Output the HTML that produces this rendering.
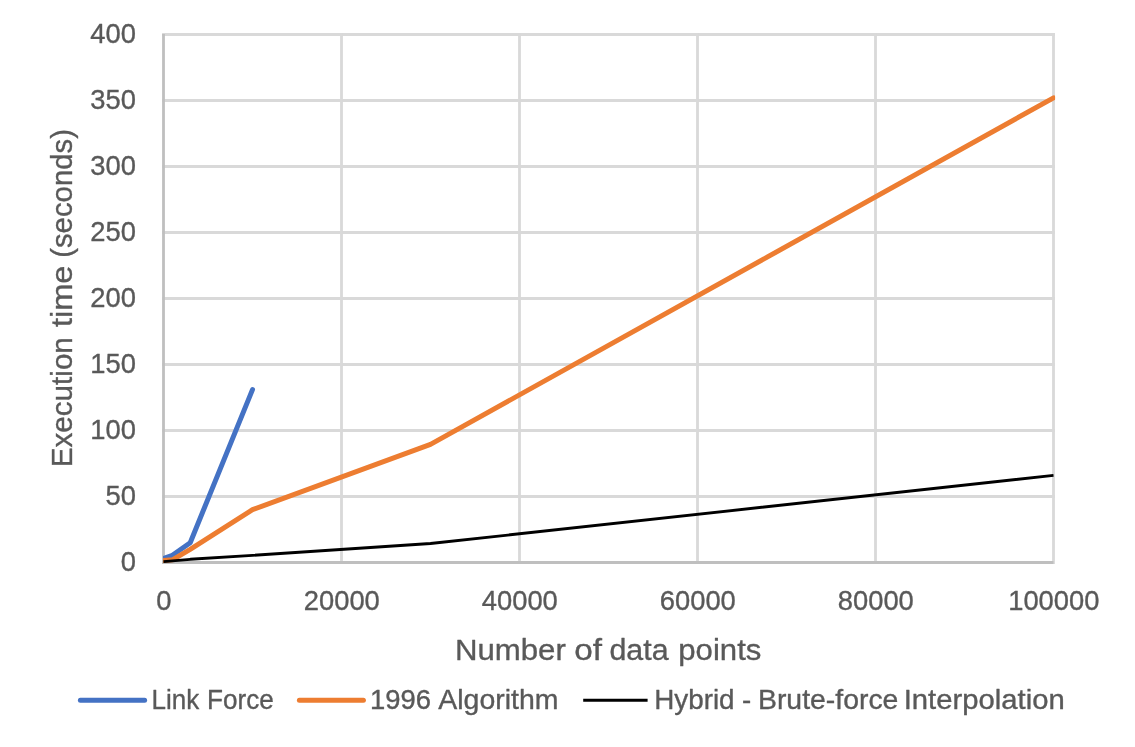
<!DOCTYPE html>
<html lang="en">
<head>
<meta charset="utf-8">
<title>Execution time vs number of data points</title>
<style>
html,body{margin:0;padding:0;background:#fff;}
body{width:1135px;height:747px;overflow:hidden;}
svg{display:block;will-change:transform;}
text{font-family:"Liberation Sans", Arial, Helvetica, sans-serif;fill:#595959;stroke:#595959;stroke-width:0.35;stroke-linejoin:round;}
.t{font-size:26.79px;}
.a{font-size:29.77px;}
</style>
</head>
<body>
<svg width="1135" height="747" viewBox="0 0 1135 747">
<rect x="0" y="0" width="1135" height="747" fill="#ffffff"/>
<g stroke="#d9d9d9" stroke-width="2.8" fill="none">
<line x1="162.1" y1="34.5" x2="1054.9" y2="34.5"/>
<line x1="162.1" y1="100.5" x2="1054.9" y2="100.5"/>
<line x1="162.1" y1="166.5" x2="1054.9" y2="166.5"/>
<line x1="162.1" y1="232.5" x2="1054.9" y2="232.5"/>
<line x1="162.1" y1="298.5" x2="1054.9" y2="298.5"/>
<line x1="162.1" y1="364.5" x2="1054.9" y2="364.5"/>
<line x1="162.1" y1="430.5" x2="1054.9" y2="430.5"/>
<line x1="162.1" y1="496.5" x2="1054.9" y2="496.5"/>
<line x1="341.5" y1="33.1" x2="341.5" y2="563.9"/>
<line x1="519.5" y1="33.1" x2="519.5" y2="563.9"/>
<line x1="697.5" y1="33.1" x2="697.5" y2="563.9"/>
<line x1="875.5" y1="33.1" x2="875.5" y2="563.9"/>
<line x1="1053.5" y1="33.1" x2="1053.5" y2="563.9"/>
</g>
<g stroke="#bfbfbf" stroke-width="2.8" fill="none">
<line x1="163.5" y1="33.9" x2="163.5" y2="563.9"/>
<line x1="162.1" y1="562.5" x2="1053.5" y2="562.5"/>
</g>
<clipPath id="c"><rect x="163.0" y="31.5" width="892.1" height="532.5"/></clipPath>
<g clip-path="url(#c)" fill="none" stroke-linejoin="round">
<polyline points="163.50,558.54 172.40,555.24 190.20,542.70 252.50,389.58" stroke="#4472c4" stroke-width="5" stroke-linecap="round"/>
<polyline points="163.50,560.52 172.40,559.86 190.20,549.30 252.50,509.70 430.50,444.36 1053.50,97.86" stroke="#ed7d31" stroke-width="5" stroke-linecap="round"/>
<polyline points="163.50,561.58 172.40,560.78 190.20,559.27 252.50,555.37 430.50,543.49 1053.50,475.38" stroke="#000000" stroke-width="2.8" stroke-linecap="butt"/>
</g>
<g class="t" text-anchor="end">
<text x="136.0" y="43.0" textLength="45.62" lengthAdjust="spacingAndGlyphs">400</text>
<text x="136.0" y="109.0" textLength="45.62" lengthAdjust="spacingAndGlyphs">350</text>
<text x="136.0" y="175.0" textLength="45.62" lengthAdjust="spacingAndGlyphs">300</text>
<text x="136.0" y="241.0" textLength="45.62" lengthAdjust="spacingAndGlyphs">250</text>
<text x="136.0" y="307.0" textLength="45.62" lengthAdjust="spacingAndGlyphs">200</text>
<text x="136.0" y="373.0" textLength="45.62" lengthAdjust="spacingAndGlyphs">150</text>
<text x="136.0" y="439.0" textLength="45.62" lengthAdjust="spacingAndGlyphs">100</text>
<text x="136.0" y="505.0" textLength="30.42" lengthAdjust="spacingAndGlyphs">50</text>
<text x="136.0" y="571.0" textLength="15.21" lengthAdjust="spacingAndGlyphs">0</text>
</g>
<g class="t" text-anchor="middle">
<text x="163.8" y="610" textLength="15.21" lengthAdjust="spacingAndGlyphs">0</text>
<text x="341.8" y="610" textLength="76.04" lengthAdjust="spacingAndGlyphs">20000</text>
<text x="519.8" y="610" textLength="76.04" lengthAdjust="spacingAndGlyphs">40000</text>
<text x="697.8" y="610" textLength="76.04" lengthAdjust="spacingAndGlyphs">60000</text>
<text x="875.8" y="610" textLength="76.04" lengthAdjust="spacingAndGlyphs">80000</text>
<text x="1053.8" y="610" textLength="91.25" lengthAdjust="spacingAndGlyphs">100000</text>
</g>
<text class="a" y="659.9"><tspan x="454.90" textLength="110.90" lengthAdjust="spacingAndGlyphs">Number</tspan> <tspan x="574.15" textLength="27.75" lengthAdjust="spacingAndGlyphs">of</tspan> <tspan x="609.45" textLength="59.10" lengthAdjust="spacingAndGlyphs">data</tspan> <tspan x="678.30" textLength="83.10" lengthAdjust="spacingAndGlyphs">points</tspan></text>
<text class="a" transform="rotate(-90)" y="72"><tspan x="-467.25" textLength="130.10" lengthAdjust="spacingAndGlyphs">Execution</tspan> <tspan x="-327.10" textLength="61.50" lengthAdjust="spacingAndGlyphs">time</tspan> <tspan x="-257.85" textLength="128.80" lengthAdjust="spacingAndGlyphs">(seconds)</tspan></text>
<line x1="80.4" y1="700.35" x2="144.6" y2="700.35" stroke="#4472c4" stroke-width="5" stroke-linecap="round"/>
<line x1="299.4" y1="700.35" x2="363.4" y2="700.35" stroke="#ed7d31" stroke-width="5" stroke-linecap="round"/>
<line x1="583.2" y1="700.35" x2="647.6" y2="700.35" stroke="#000000" stroke-width="3"/>
<text class="t" y="708.9"><tspan x="151.50" textLength="47.70" lengthAdjust="spacingAndGlyphs">Link</tspan> <tspan x="207.00" textLength="66.83" lengthAdjust="spacingAndGlyphs">Force</tspan></text>
<text class="t" y="708.9"><tspan x="370.10" textLength="61.00" lengthAdjust="spacingAndGlyphs">1996</tspan> <tspan x="438.30" textLength="120.20" lengthAdjust="spacingAndGlyphs">Algorithm</tspan></text>
<text class="t" y="708.9"><tspan x="654.20" textLength="80.40" lengthAdjust="spacingAndGlyphs">Hybrid</tspan> <tspan x="741.90" textLength="9.19" lengthAdjust="spacingAndGlyphs">-</tspan> <tspan x="758.00" textLength="140.35" lengthAdjust="spacingAndGlyphs">Brute-force</tspan> <tspan x="903.70" textLength="161.00" lengthAdjust="spacingAndGlyphs">Interpolation</tspan></text>
</svg>
</body>
</html>
